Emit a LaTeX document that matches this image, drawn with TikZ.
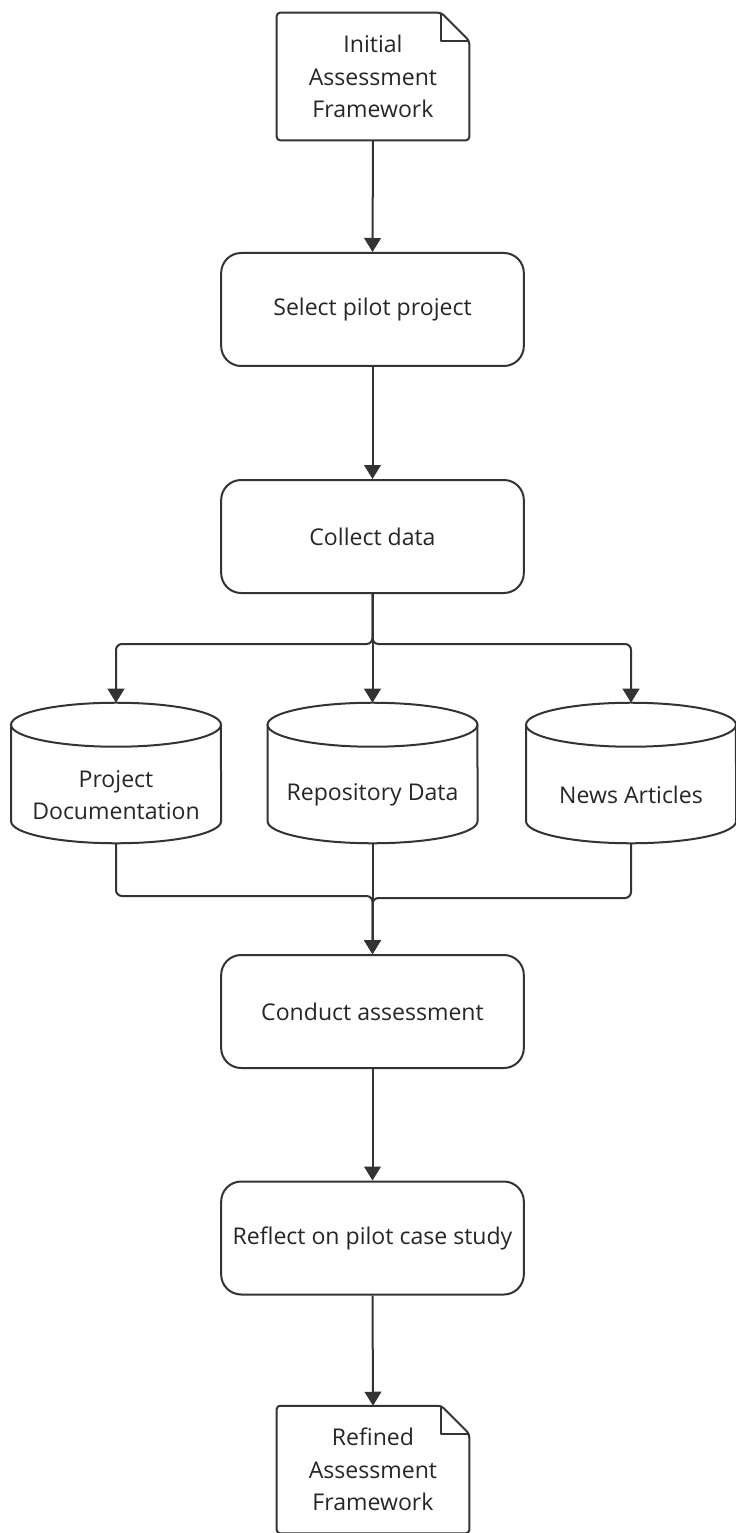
\documentclass[tikz,border=0pt]{standalone}
\usepackage{fontspec}
\setmainfont{Open Sans}
\usetikzlibrary{arrows.meta,calc}

\definecolor{ink}{HTML}{333333}
\definecolor{txt}{HTML}{262626}

\tikzset{
  outline/.style={draw=ink, line width=1.5pt},
  flow/.style={draw=ink, line width=1.5pt, rounded corners=4.5pt,
    -{Triangle[width=12.5pt,length=10.5pt]}},
  txtstyle/.style={text=txt, font=\fontsize{17.3}{24.5}\selectfont, align=center, inner sep=0pt},
  stepbox/.style={outline, txtstyle, rounded corners=15pt,
    minimum width=227pt, minimum height=84.75pt},
  docbox/.style={txtstyle, minimum width=144pt, minimum height=95.25pt},
  cylbody/.style={txtstyle, minimum width=157pt, minimum height=72pt},
}

% folded-corner document outline around a node
\newcommand{\docoutline}[1]{%
  \draw[outline, rounded corners=2.5pt]
    ($(#1.north east)+(-28,0)$) -- (#1.north west) -- (#1.south west)
    -- (#1.south east) -- ($(#1.north east)+(0,28)$) -- cycle;
  \draw[outline, line join=round]
    ($(#1.north east)+(-28,0)$) -- ++(0,28) -- ++(28,0);
}

% cylinder outline around a node (node spans from the top ellipse's lower rim to the bottom)
\newcommand{\cyloutline}[1]{%
  \draw[outline] ($(#1.north)+(0,-22)$) ellipse[x radius=78.75pt, y radius=16.5pt];
  \draw[outline]
    ($(#1.north west)+(0,-22)$) -- ($(#1.south west)+(0,-22)$)
    arc[start angle=180, end angle=360, x radius=78.75pt, y radius=16.5pt]
    -- ($(#1.north east)+(0,-22)$);
}

\begin{document}
\begin{tikzpicture}[x=0.75pt, y=-0.75pt]
  \useasboundingbox (0,0) rectangle (735,1533);

  % documents
  \node[docbox] (init) at (373,76.5) {Initial\\Assessment\\Framework};
  \docoutline{init}
  \node[docbox] (refined) at (373,1469.5) {Refined\\Assessment\\Framework};
  \docoutline{refined}

  % process steps
  \node[stepbox] (select)  at (372.5,309.5)  {Select pilot project};
  \node[stepbox] (collect) at (372.5,536.5)  {Collect data};
  \node[stepbox] (conduct) at (372.5,1011.5) {Conduct assessment};
  \node[stepbox] (reflect) at (372.5,1238)   {Reflect on pilot case study};

  % data sources
  \node[cylbody] (projdoc) at (116,795) {Project\\Documentation};
  \node[cylbody] (repo)    at (372.5,795) {Repository Data};
  \node[cylbody] (news)    at (631,795) {News Articles};
  \cyloutline{projdoc}
  \cyloutline{repo}
  \cyloutline{news}

  % main flow
  \draw[flow] (init.south) -- (select.north);
  \draw[flow] (select.south) -- (collect.north);
  \draw[flow] (conduct.south) -- (reflect.north);
  \draw[flow] (reflect.south) -- (refined.north);

  % fan-out to the data sources
  \coordinate (split) at ($(collect.south)+(0,50)$);
  \draw[flow] (collect.south) -- (split) -| ($(projdoc.north)+(0,-44)$);
  \draw[flow] (collect.south) -- ($(repo.north)+(0,-44)$);
  \draw[flow] (collect.south) -- (split) -| ($(news.north)+(0,-44)$);

  % fan-in to the assessment
  \coordinate (joinL) at ($(conduct.north)+(0,-58)$);
  \coordinate (joinR) at ($(conduct.north)+(0,-56)$);
  \draw[flow] (projdoc.south) |- (joinL) -- (conduct.north);
  \draw[flow] (repo.south) -- (conduct.north);
  \draw[flow] (news.south) |- (joinR) -- (conduct.north);
\end{tikzpicture}
\end{document}
